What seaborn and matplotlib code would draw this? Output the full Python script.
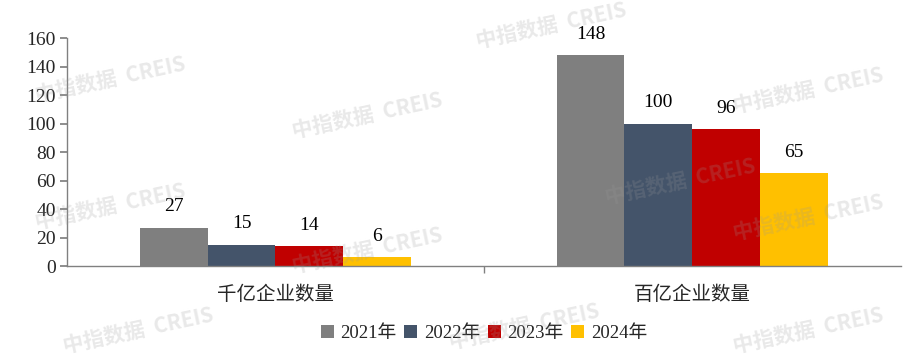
import matplotlib
matplotlib.use("Agg")
import matplotlib.pyplot as plt
import seaborn as sns
import pandas as pd

categories = ["千亿企业数量", "百亿企业数量"]
years = ["2021年", "2022年", "2023年", "2024年"]
v2021 = [27, 148]
v2022 = [15, 100]
v2023 = [14, 96]
v2024 = [6, 65]
colors = ["#7F7F7F", "#44546A", "#C00000", "#FFC000"]

sns.set_theme(style="white")
plt.rcParams['font.family'] = ['Liberation Serif', 'Noto Sans CJK SC', 'DejaVu Sans']

rows = []
for yr, vals in zip(years, [v2021, v2022, v2023, v2024]):
    for c, v in zip(categories, vals):
        rows.append({"cat": c, "year": yr, "value": v})
df = pd.DataFrame(rows)

fig = plt.figure(figsize=(9.19, 3.63), dpi=100)
ax = fig.add_axes([0.0729, 0.2672, 0.9071, 0.6281])

sns.barplot(data=df, x="cat", y="value", hue="year", palette=colors,
            width=0.65, gap=0, saturation=1, ax=ax, legend=True, zorder=2,
            linewidth=0, edgecolor="none")

for cont in ax.containers:
    for bar in cont:
        h = bar.get_height()
        ax.annotate(f"{int(h)}", (bar.get_x() + bar.get_width() / 2, h),
                    xytext=(0, 15), textcoords="offset points",
                    ha="center", va="center", fontsize=14, color="black")

ax.set_ylim(0, 160)
ax.set_yticks(range(0, 161, 20))
ax.set_xlim(-0.5, 1.5)
ax.set_xlabel("")
ax.set_ylabel("")
ax.patch.set_alpha(0)
for s in ["top", "right"]:
    ax.spines[s].set_visible(False)
for s in ["left", "bottom"]:
    ax.spines[s].set_color("#808080")
    ax.spines[s].set_linewidth(1)
ax.tick_params(axis="y", which="both", left=True, length=5, color="#808080",
               labelsize=14, pad=3)
ax.tick_params(axis="x", bottom=False, labelsize=14, pad=7)
ax.set_xticks([0.5], minor=True)
ax.tick_params(axis="x", which="minor", bottom=True, length=5, color="#808080")
for lab in ax.get_xticklabels():
    lab.set_family(['Noto Sans CJK SC', 'DejaVu Sans'])

handles, labels = ax.get_legend_handles_labels()
ax.legend(handles, labels, loc="center", bbox_to_anchor=(0.5, -0.295), ncol=4,
          frameon=False, handlelength=0.7, handleheight=0.7,
          handletextpad=0.35, columnspacing=0.4,
          prop={'family': ['Liberation Serif', 'Noto Sans CJK SC'], 'size': 13.5})

# faint watermarks (kept inside the figure)
wm = [(0.40, 0.68), (0.60, 0.93), (0.12, 0.78), (0.88, 0.75), (0.74, 0.50),
      (0.12, 0.43), (0.40, 0.31), (0.88, 0.40), (0.57, 0.10), (0.88, 0.09), (0.15, 0.09)]
for (x, y) in wm:
    fig.text(x, y, "中指数据  CREIS", fontsize=15, color="#999999", alpha=0.22,
             rotation=12, ha="center", va="center", fontweight="bold",
             family=['Noto Sans CJK SC', 'DejaVu Sans'], zorder=10)

fig.savefig("out.png", dpi=100)
